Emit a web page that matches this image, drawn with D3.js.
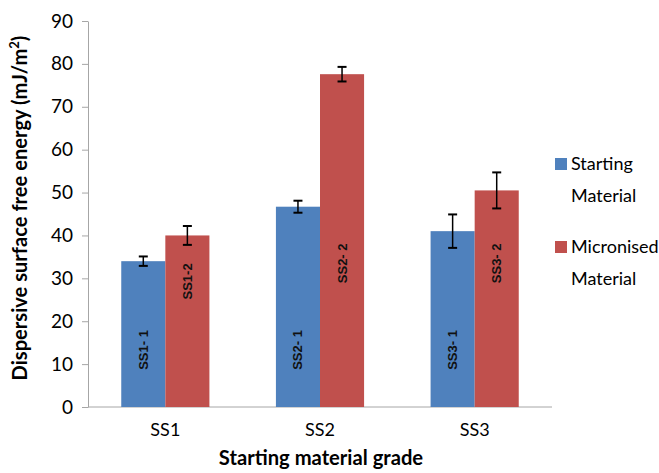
<!DOCTYPE html>
<html><head><meta charset="utf-8">
<script src="https://cdn.jsdelivr.net/npm/d3@7"></script>
<style>body{margin:0;background:#fff}</style>
</head><body>
<svg id="c" width="659" height="473"></svg>
<script>
const categories = ["SS1", "SS2", "SS3"];
const seriesNames = ["Starting Material", "Micronised Material"];
const startingValues = [34.0, 46.7, 41.0];
const startingErrors = [1.1, 1.4, 3.9];
const micronisedValues = [40.0, 77.6, 50.5];
const micronisedErrors = [2.2, 1.7, 4.2];
const startingLabels = ["SS1- 1", "SS2- 1", "SS3- 1"];
const micronisedLabels = ["SS1-2", "SS2- 2", "SS3- 2"];
const yTicks = [0, 10, 20, 30, 40, 50, 60, 70, 80, 90];

(function () {
const colors = ["#4f81bd", "#c0504d"];
const svg = d3.select("#c");
const mLeft = 88, mRight = 552, mTop = 21, mBottom = 407;
const font = "Lato, 'Open Sans', sans-serif";

function fit(sel, target, base) {
  const w = sel.node().getBBox().width;
  if (w > 0) sel.attr("font-size", base * target / w);
}

const x = d3.scaleBand().domain(categories).range([mLeft, mRight]).paddingInner(0.43).paddingOuter(0.215);
const xs = d3.scaleBand().domain([0, 1]).range([0, x.bandwidth()]);
const y = d3.scaleLinear().domain([0, 90]).range([mBottom, mTop]);

// y axis
const yAxis = svg.append("g").attr("transform", `translate(${mLeft},0)`)
  .call(d3.axisLeft(y).tickValues(yTicks).tickSize(6).tickSizeOuter(0).tickPadding(9));
yAxis.select(".domain").attr("stroke", "#a6a6a6");
yAxis.selectAll(".tick line").attr("stroke", "#a6a6a6");
yAxis.selectAll(".tick text").attr("font-family", font).attr("font-size", 19).attr("fill", "#000");

// x axis
const xAxis = svg.append("g").attr("transform", `translate(0,${mBottom})`)
  .call(d3.axisBottom(x).tickSize(0).tickPadding(16));
xAxis.select(".domain").attr("stroke", "#a6a6a6").attr("d", `M${mLeft},0H${mRight}`);
xAxis.selectAll(".tick text").attr("font-family", font).attr("font-size", 18).attr("fill", "#000");

const series = [
  {vals: startingValues, errs: startingErrors, labels: startingLabels},
  {vals: micronisedValues, errs: micronisedErrors, labels: micronisedLabels}
];

series.forEach((s, si) => {
  const g = svg.append("g");
  categories.forEach((c, i) => {
    const bx = x(c) + xs(si), bw = xs.bandwidth();
    const v = s.vals[i], e = s.errs[i];
    g.append("rect").attr("x", bx).attr("y", y(v)).attr("width", bw).attr("height", mBottom - y(v))
      .attr("fill", colors[si]);
    const cx = bx + bw / 2;
    g.append("line").attr("x1", cx).attr("x2", cx).attr("y1", y(v + e)).attr("y2", y(v - e))
      .attr("stroke", "#000").attr("stroke-width", 1.5);
    [v + e, v - e].forEach(t => g.append("line").attr("x1", cx - 4.5).attr("x2", cx + 4.5)
      .attr("y1", y(t)).attr("y2", y(t)).attr("stroke", "#000").attr("stroke-width", 2));
    const ly = si === 0 ? y(13.3) : Math.max(y(33.5), y(v) + 46);
    g.append("text").attr("transform", `translate(${cx + 4.5},${ly}) rotate(-90)`)
      .attr("text-anchor", "middle").attr("font-family", "Liberation Sans, Arial, sans-serif")
      .attr("font-weight", "bold").attr("font-size", 13).attr("fill", "#111").text(s.labels[i]);
  });
});

// axis titles
const yt = svg.append("text").attr("transform", "translate(27,208) rotate(-90)").attr("text-anchor", "middle")
  .attr("font-family", font).attr("font-weight", "bold").attr("font-size", 16).attr("fill", "#000")
  .html('Dispersive surface free energy (mJ/m<tspan baseline-shift="super" font-size="0.65em">2</tspan>)');
fit(yt, 345, 16);
const xt = svg.append("text").attr("x", 321).attr("y", 465).attr("text-anchor", "middle")
  .attr("font-family", font).attr("font-weight", "bold").attr("font-size", 16).attr("fill", "#000")
  .text("Starting material grade");
fit(xt, 205, 16);

// legend
const legendY = [158, 241];
seriesNames.forEach((n, i) => {
  svg.append("rect").attr("x", 555).attr("y", legendY[i]).attr("width", 12).attr("height", 12).attr("fill", colors[i]);
  const words = n.split(" ");
  const t = svg.append("text").attr("font-family", font).attr("font-size", 18).attr("fill", "#000");
  words.forEach((w, k) => t.append("tspan").attr("x", 571).attr("y", legendY[i] + 12 + k * 32).text(w));
});
})();
</script>
</body></html>
